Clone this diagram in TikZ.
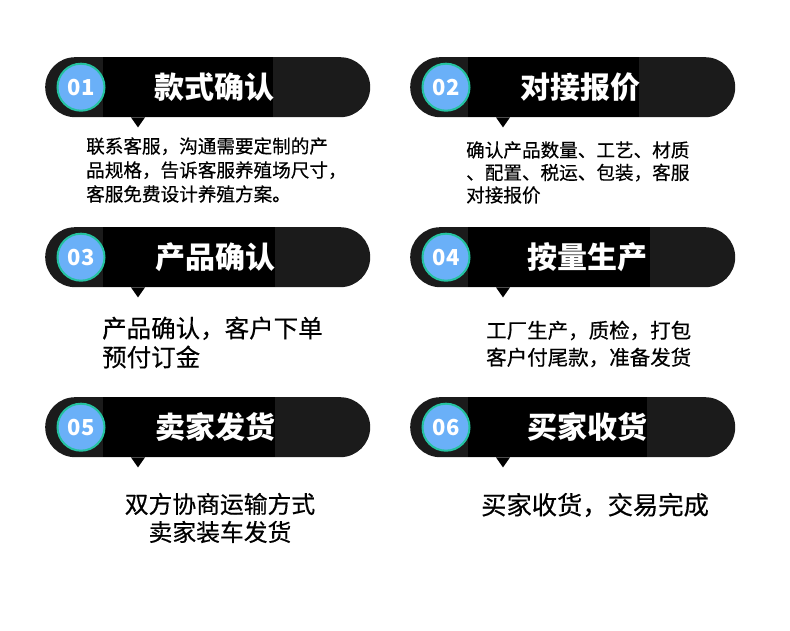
\documentclass[tikz,border=0pt]{standalone}
\usepackage{fontspec}
\newfontfamily\cjk{Noto Sans CJK SC}
\newfontfamily\cjkm{Noto Sans CJK SC}[FakeBold=0.4]
\usetikzlibrary{calc}
\definecolor{bandgray}{HTML}{1B1B1B}
\definecolor{numblue}{HTML}{6AB0F8}
\definecolor{numring}{HTML}{24C2A0}
\tikzset{
  pill/.style={fill=bandgray, rounded corners=30pt, minimum width=325pt, minimum height=60pt, inner sep=0pt, anchor=north west},
  numcircle/.style={circle, fill=numblue, draw=numring, line width=2pt, minimum size=47pt, inner sep=0pt, text=white, font=\cjk\bfseries\fontsize{22}{22}\selectfont},
  titletext/.style={text=white, font=\cjk\bfseries\fontsize{30}{30}\selectfont, inner sep=0pt},
  bodytext/.style={text=black, inner sep=0pt, align=left}
}
\newcommand\mkbanner[7]{% name, left x, top y, number, title, title center x, black end offset
  \node[pill] (#1) at (#2,#3) {};
  \fill[black] ($(#1.north west)+(58,0)$) rectangle ($(#1.south west)+(#7,0)$);
  \fill[black] ($(#1.south west)+(86,0)$) -- ($(#1.south west)+(93,10)$) -- ($(#1.south west)+(100,0)$) -- cycle;
  \node[numcircle] (#1n) at ($(#1.west)+(36,0)$) {#4};
  \node[titletext] (#1t) at (#6,{#3+30}) {#5};
}
\begin{document}
\begin{tikzpicture}[x=1pt,y=-1pt]
\useasboundingbox[fill=white] (0,0) rectangle (790,631);

\mkbanner{b1}{45}{57}{01}{款式确认}{214}{228}
\mkbanner{b2}{410}{57}{02}{对接报价}{580}{229}
\mkbanner{b3}{45}{227}{03}{产品确认}{215}{230}
\mkbanner{b4}{410}{227}{04}{按量生产}{587}{240}
\mkbanner{b5}{45}{397}{05}{卖家发货}{215}{230}
\mkbanner{b6}{410}{397}{06}{买家收货}{587}{237}

\node[bodytext, anchor=west, font=\cjkm\fontsize{18.6}{24}\selectfont] (t1) at (86,170)
  {联系客服，沟通需要定制的产\\品规格，告诉客服养殖场尺寸，\\客服免费设计养殖方案。};
\node[bodytext, anchor=west, font=\cjkm\fontsize{18.6}{22.5}\selectfont] (t2) at (466,172.5)
  {确认产品数量、工艺、材质\\、配置、税运、包装，客服\\对接报价};
\node[bodytext, anchor=west, font=\cjkm\fontsize{24.5}{29}\selectfont] (t3) at (102,342.5)
  {产品确认，客户下单\\预付订金};
\node[bodytext, anchor=west, font=\cjkm\fontsize{20.5}{27}\selectfont] (t4) at (486,344)
  {工厂生产，质检，打包\\客户付尾款，准备发货};
\node[bodytext, align=center, font=\cjkm\fontsize{23.8}{28}\selectfont] (t5) at (220,518)
  {双方协商运输方式\\卖家装车发货};
\node[bodytext, anchor=west, font=\cjkm\fontsize{25.3}{29}\selectfont] (t6) at (481,505)
  {买家收货，交易完成};
\end{tikzpicture}
\end{document}
